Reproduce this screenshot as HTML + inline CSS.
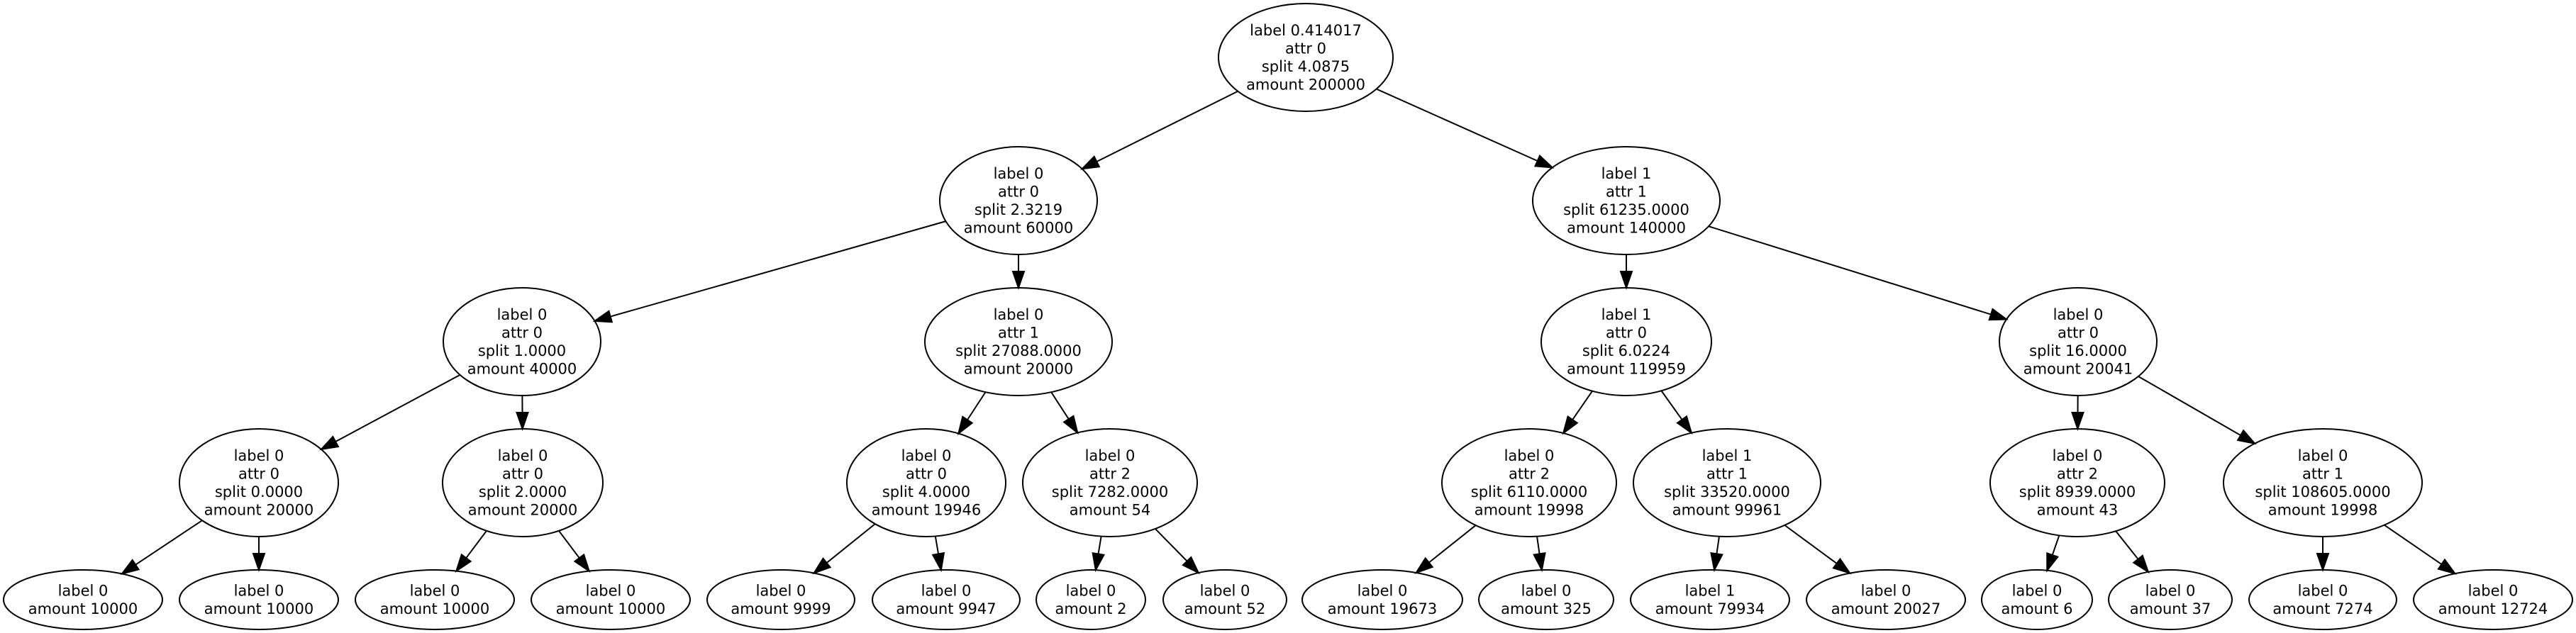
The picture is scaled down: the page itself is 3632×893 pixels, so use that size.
<!DOCTYPE html>
<html><head><meta charset="utf-8"><style>
html,body{margin:0;padding:0;background:#fff;}
svg{display:block;}
text{font-family:"DejaVu Sans","Liberation Sans",sans-serif;font-size:21px;fill:#000;}
</style></head><body>
<svg id="s" width="3632" height="893" viewBox="0 0 3632 893" xmlns="http://www.w3.org/2000/svg"></svg>
<script>
const N={
r:[1841,81,123,76,["label 0.414017","attr 0","split 4.0875","amount 200000"]],
a:[1436,283,111,76,["label 0","attr 0","split 2.3219","amount 60000"]],
b:[2293,283,132,76,["label 1","attr 1","split 61235.0000","amount 140000"]],
c:[736,482,111,76,["label 0","attr 0","split 1.0000","amount 40000"]],
d:[1436,482,132,76,["label 0","attr 1","split 27088.0000","amount 20000"]],
e:[2293,482,120,76,["label 1","attr 0","split 6.0224","amount 119959"]],
f:[2930,482,111,76,["label 0","attr 0","split 16.0000","amount 20041"]],
g:[365,681,112,76,["label 0","attr 0","split 0.0000","amount 20000"]],
h:[737,681,113,76,["label 0","attr 0","split 2.0000","amount 20000"]],
i:[1306,681,112,76,["label 0","attr 0","split 4.0000","amount 19946"]],
j:[1565,681,123,76,["label 0","attr 2","split 7282.0000","amount 54"]],
k:[2156,681,123,76,["label 0","attr 2","split 6110.0000","amount 19998"]],
l:[2435,681,132,76,["label 1","attr 1","split 33520.0000","amount 99961"]],
m:[2929,681,123,76,["label 0","attr 2","split 8939.0000","amount 43"]],
n:[3275,681,140,76,["label 0","attr 1","split 108605.0000","amount 19998"]],
l1:[117,846,112,42,["label 0","amount 10000"]],
l2:[365,846,112,42,["label 0","amount 10000"]],
l3:[613,846,112,42,["label 0","amount 10000"]],
l4:[861,846,112,42,["label 0","amount 10000"]],
l5:[1101,846,104,42,["label 0","amount 9999"]],
l6:[1334,846,104,42,["label 0","amount 9947"]],
l7:[1538,846,77,42,["label 0","amount 2"]],
l8:[1727,846,87,42,["label 0","amount 52"]],
l9:[1949,846,113,42,["label 0","amount 19673"]],
l10:[2180,846,95,42,["label 0","amount 325"]],
l11:[2411,846,112,42,["label 1","amount 79934"]],
l12:[2659,846,112,42,["label 0","amount 20027"]],
l13:[2872,846,78,42,["label 0","amount 6"]],
l14:[3060,846,87,42,["label 0","amount 37"]],
l15:[3275,846,104,42,["label 0","amount 7274"]],
l16:[3515,846,112,42,["label 0","amount 12724"]]
};
const E=[["r","a"],["r","b"],["a","c"],["a","d"],["b","e"],["b","f"],["c","g"],["c","h"],["d","i"],["d","j"],["e","k"],["e","l"],["f","m"],["f","n"],
["g","l1"],["g","l2"],["h","l3"],["h","l4"],["i","l5"],["i","l6"],["j","l7"],["j","l8"],["k","l9"],["k","l10"],["l","l11"],["l","l12"],["m","l13"],["m","l14"],["n","l15"],["n","l16"]];
let out="";
function edgePt(n,dx,dy){const[cx,cy,rx,ry]=n;const t=1/Math.sqrt((dx*dx)/(rx*rx)+(dy*dy)/(ry*ry));return[cx+dx*t,cy+dy*t];}
for(const[p,c]of E){const A=N[p],B=N[c];const dx=B[0]-A[0],dy=B[1]-A[1];
const s=edgePt(A,dx,dy),t=edgePt(B,-dx,-dy);const L=Math.hypot(dx,dy),ux=dx/L,uy=dy/L;
const al=23,aw=8;const bx=t[0]-ux*al,by=t[1]-uy*al;
out+=`<line x1="${s[0]}" y1="${s[1]}" x2="${bx}" y2="${by}" stroke="#000" stroke-width="2"/>`;
out+=`<polygon points="${t[0]},${t[1]} ${bx-uy*aw},${by+ux*aw} ${bx+uy*aw},${by-ux*aw}" fill="#000" stroke="#000" stroke-width="2"/>`;}
for(const k in N){const[cx,cy,rx,ry,lines]=N[k];
out+=`<ellipse cx="${cx}" cy="${cy}" rx="${rx}" ry="${ry}" fill="none" stroke="#000" stroke-width="2"/>`;
const sp=25.5;const y0=cy-(lines.length-1)*sp/2;
lines.forEach((tx,i)=>{out+=`<text x="${cx}" y="${y0+i*sp+7}" text-anchor="middle">${tx}</text>`;});}
document.getElementById("s").innerHTML=out;
</script>
</body></html>
